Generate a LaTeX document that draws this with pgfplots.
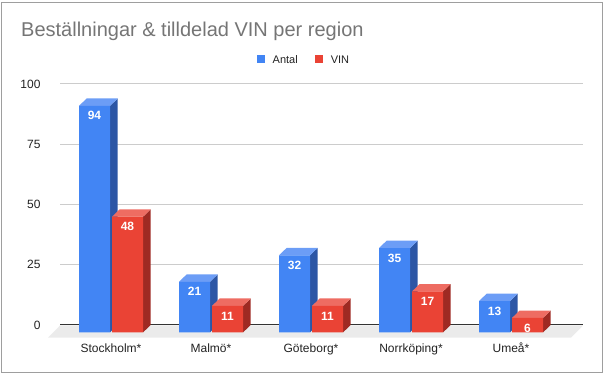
\documentclass[border=0pt]{standalone}
\usepackage{pgfplots}
\pgfplotsset{compat=1.18}
\usepackage{pgfplotstable}
\usepackage{fontspec}
\setmainfont{Liberation Sans}
\definecolor{gblue}{HTML}{4285F4}
\definecolor{gbluetop}{HTML}{6C9DF6}
\definecolor{gblueside}{HTML}{2C56A5}
\definecolor{gred}{HTML}{EA4335}
\definecolor{gredtop}{HTML}{EE6C62}
\definecolor{gredside}{HTML}{9E2A23}
\definecolor{gridgray}{HTML}{CCCCCC}
\definecolor{floorgray}{HTML}{EBEBEB}
\definecolor{bordergray}{HTML}{9E9E9E}
\definecolor{titlegray}{HTML}{757575}
\definecolor{labelgray}{HTML}{222222}

\pgfplotstableread{
k antal vin
0 94 48
1 21 11
2 32 11
3 35 17
4 13 6
}\datatable

\newcommand{\legsq}[1]{\textcolor{#1}{\rule{8pt}{8pt}}\hspace{8pt}}

\begin{document}
\begin{tikzpicture}
\useasboundingbox (0,0) rectangle (608pt,377pt);
\draw[bordergray, line width=1pt] (1.7pt,4pt) rectangle (602.7pt,374.3pt);
\node[anchor=base west, font=\fontsize{20}{24}\selectfont, text=titlegray, inner sep=0pt] at (21pt,340.3pt) {Beställningar \& tilldelad VIN per region};
\begin{axis}[
  at={(60pt,52pt)}, anchor=south west,
  scale only axis, width=523pt, height=241pt,
  xmin=-0.59, xmax=4.64, ymin=0, ymax=100,
  enlargelimits=false, clip=false,
  axis line style={draw=none},
  major tick length=0pt,
  ytick={0,25,50,75,100},
  ymajorgrids,
  major grid style={color=gridgray, line width=1pt},
  xtick={-0.08,0.92,1.92,2.92,3.92},
  xticklabels={Stockholm*,Malmö*,Göteborg*,Norrköping*,Umeå*},
  /pgf/number format/assume math mode=true,
  tick label style={font=\fontsize{12}{14}\selectfont, text=labelgray, inner sep=0pt},
  yticklabel style={anchor=east, xshift=-19.3pt},
  xticklabel style={anchor=base, yshift=-27.7pt},
  legend columns=2,
  legend cell align=left,
  legend style={at={(0.3761,1.1)}, anchor=west, draw=none, fill=none,
    inner sep=0pt, outer sep=0pt, nodes={inner sep=0pt},
    font=\fontsize{11}{13}\selectfont, text=labelgray,
    /tikz/every odd column/.append style={column sep=0pt},
    /tikz/every even column/.append style={column sep=17pt}},
  legend image code/.code={},
  every node near coord/.append style={anchor=center, yshift=-10pt, text=white,
    font=\bfseries\fontsize{12}{14}\selectfont},
]
% floor
\addplot[fill=floorgray, draw=none, forget plot] coordinates {(-0.59,-0.2) (4.64,-0.2) (4.52,-5.27) (-0.71,-5.27)};
% baseline
\addplot[color=black!80, line width=1pt, forget plot] coordinates {(-0.59,0) (4.64,0)};

% --- Antal: side and top faces
\addplot[fill=gblueside, draw=none, forget plot] coordinates {(-0.09,-3.07) (-0.013,0) (-0.013,94) (-0.09,90.93)};
\addplot[fill=gbluetop, draw=none, forget plot] coordinates {(-0.40,90.93) (-0.09,90.93) (-0.013,94) (-0.323,94)};
\addplot[fill=gblueside, draw=none, forget plot] coordinates {(0.91,-3.07) (0.987,0) (0.987,21) (0.91,17.93)};
\addplot[fill=gbluetop, draw=none, forget plot] coordinates {(0.60,17.93) (0.91,17.93) (0.987,21) (0.677,21)};
\addplot[fill=gblueside, draw=none, forget plot] coordinates {(1.91,-3.07) (1.987,0) (1.987,32) (1.91,28.93)};
\addplot[fill=gbluetop, draw=none, forget plot] coordinates {(1.60,28.93) (1.91,28.93) (1.987,32) (1.677,32)};
\addplot[fill=gblueside, draw=none, forget plot] coordinates {(2.91,-3.07) (2.987,0) (2.987,35) (2.91,31.93)};
\addplot[fill=gbluetop, draw=none, forget plot] coordinates {(2.60,31.93) (2.91,31.93) (2.987,35) (2.677,35)};
\addplot[fill=gblueside, draw=none, forget plot] coordinates {(3.91,-3.07) (3.987,0) (3.987,13) (3.91,9.93)};
\addplot[fill=gbluetop, draw=none, forget plot] coordinates {(3.60,9.93) (3.91,9.93) (3.987,13) (3.677,13)};
% --- Antal: front faces
\addplot[ybar, bar width=31pt, bar shift=-24.5pt, yshift=-7.4pt, fill=gblue, draw=none,
  nodes near coords, every node near coord/.append style={xshift=-24.5pt}]
  table[x=k, y=antal] {\datatable};
\addlegendentry{\legsq{gblue}Antal}

% --- VIN: side and top faces
\addplot[fill=gredside, draw=none, forget plot] coordinates {(0.24,-3.07) (0.317,0) (0.317,48) (0.24,44.93)};
\addplot[fill=gredtop, draw=none, forget plot] coordinates {(-0.07,44.93) (0.24,44.93) (0.317,48) (0.007,48)};
\addplot[fill=gredside, draw=none, forget plot] coordinates {(1.24,-3.07) (1.317,0) (1.317,11) (1.24,7.93)};
\addplot[fill=gredtop, draw=none, forget plot] coordinates {(0.93,7.93) (1.24,7.93) (1.317,11) (1.007,11)};
\addplot[fill=gredside, draw=none, forget plot] coordinates {(2.24,-3.07) (2.317,0) (2.317,11) (2.24,7.93)};
\addplot[fill=gredtop, draw=none, forget plot] coordinates {(1.93,7.93) (2.24,7.93) (2.317,11) (2.007,11)};
\addplot[fill=gredside, draw=none, forget plot] coordinates {(3.24,-3.07) (3.317,0) (3.317,17) (3.24,13.93)};
\addplot[fill=gredtop, draw=none, forget plot] coordinates {(2.93,13.93) (3.24,13.93) (3.317,17) (3.007,17)};
\addplot[fill=gredside, draw=none, forget plot] coordinates {(4.24,-3.07) (4.317,0) (4.317,6) (4.24,2.93)};
\addplot[fill=gredtop, draw=none, forget plot] coordinates {(3.93,2.93) (4.24,2.93) (4.317,6) (4.007,6)};
% --- VIN: front faces
\addplot[ybar, bar width=31pt, bar shift=8.5pt, yshift=-7.4pt, fill=gred, draw=none,
  nodes near coords, every node near coord/.append style={xshift=8.5pt}]
  table[x=k, y=vin] {\datatable};
\addlegendentry{\legsq{gred}VIN}
\end{axis}
\end{tikzpicture}
\end{document}
